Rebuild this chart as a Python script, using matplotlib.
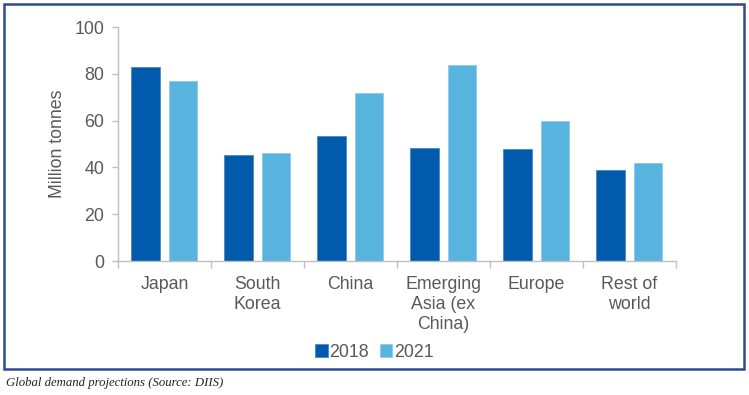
import numpy as np
import matplotlib.pyplot as plt
from matplotlib.patches import Rectangle

regions = ["Japan", "South\nKorea", "China", "Emerging\nAsia (ex\nChina)", "Europe", "Rest of\nworld"]
demand_2018 = [83, 45.4, 53.6, 48.2, 48.1, 39]
demand_2021 = [76.8, 46, 71.6, 83.8, 59.8, 42.1]
y_ticks = [0, 20, 40, 60, 80, 100]

dark = "#005BAC"
light = "#59B3DF"
grey = "#595959"
fs = 12.8

fig = plt.figure(figsize=(7.49, 3.95), dpi=100)
ax = fig.add_axes([0.1575, 0.339, 0.745, 0.5926])

x = np.arange(len(regions))
w = 0.31
ax.bar(x - 0.2, demand_2018, w, color=dark, edgecolor="#4F86C6", linewidth=0.6, label="2018")
ax.bar(x + 0.2, demand_2021, w, color=light, edgecolor="#8CCBEA", linewidth=0.6, label="2021")

ax.set_xlim(-0.5, len(regions) - 0.5)
ax.set_ylim(0, 100)
ax.set_yticks(y_ticks)
ax.set_xticks(x)
ax.set_xticklabels(regions, fontsize=fs, color=grey, family="Liberation Sans", linespacing=1.22)
ax.tick_params(axis="x", length=0, pad=11)
ax.set_xticks(np.arange(len(regions) + 1) - 0.5, minor=True)
ax.tick_params(axis="x", which="minor", length=5, color="#BFBFBF", width=1)
ax.tick_params(axis="y", length=4, color="#BFBFBF", width=1, labelsize=fs, labelcolor=grey, pad=6)
for lab in ax.get_yticklabels():
    lab.set_family("Liberation Sans")
ax.set_ylabel("Million tonnes", fontsize=fs, color=grey, family="Liberation Sans", labelpad=6)

for s in ["top", "right"]:
    ax.spines[s].set_visible(False)
for s in ["left", "bottom"]:
    ax.spines[s].set_color("#BFBFBF")
    ax.spines[s].set_linewidth(1)

leg = fig.legend(loc="center", bbox_to_anchor=(0.5, 0.108), ncol=2, frameon=False,
                 handlelength=0.7, handleheight=0.7, handletextpad=0.1, columnspacing=0.6,
                 prop={"family": "Liberation Sans", "size": fs})
for t in leg.get_texts():
    t.set_color(grey)

fig.patches.append(Rectangle((0.006, 0.065), 0.987, 0.925, transform=fig.transFigure,
                             fill=False, edgecolor="#2F4B8F", linewidth=1.8))
fig.text(0.008, 0.022, "Global demand projections (Source: DIIS)", fontsize=9.2,
         style="italic", family="Liberation Serif", color="#222222")

fig.savefig("out.png", dpi=100)
